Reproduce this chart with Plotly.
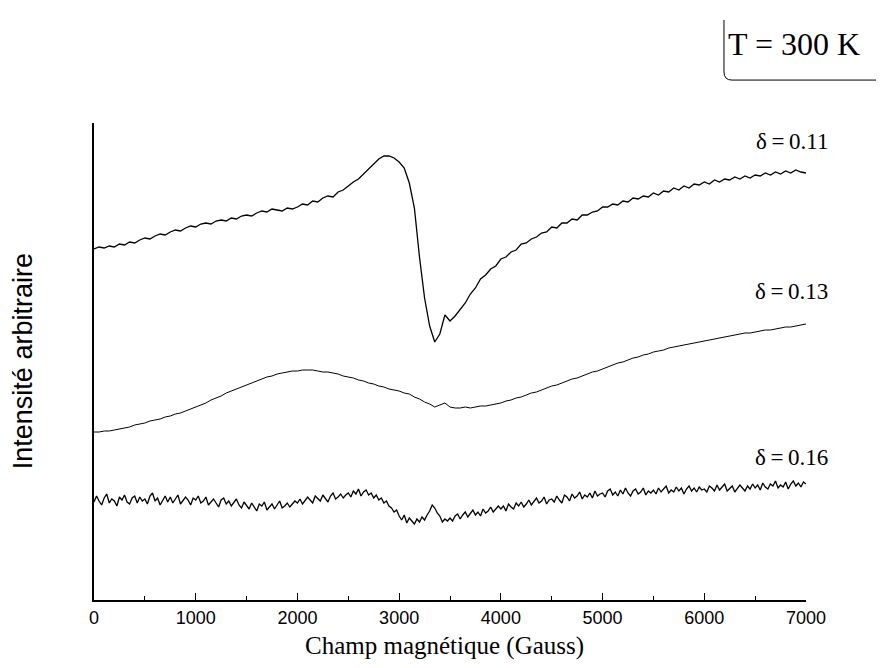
import plotly.graph_objects as go

# Magnetic field sampling positions (Gauss)
field_50 = list(range(0, 7001, 50))
field_25 = list(range(0, 7001, 25))

# delta = 0.11 (arbitrary intensity units)
delta_011 = [
    351, 353, 352, 354, 353, 356, 355, 358, 357, 360,
    362, 361, 364, 366, 365, 368, 370, 369, 372, 374,
    373, 376, 377, 376, 379, 380, 379, 382, 381, 384,
    385, 384, 387, 389, 388, 391, 390, 389, 392, 391,
    393, 396, 395, 399, 398, 402, 404, 403, 408, 410,
    414, 418, 421, 426, 431, 436, 441, 444, 444, 442,
    438, 432, 417, 392, 343, 302, 274, 258, 266, 285,
    279, 284,
    290, 297, 306, 312, 321, 325, 331, 334, 341, 343,
    348, 350, 356, 357, 361, 363, 367, 368, 373, 372,
    377, 377, 381, 380, 385, 385, 388, 389, 393, 393,
    396, 395, 399, 398, 402, 401, 404, 403, 407, 405,
    409, 408, 412, 410, 414, 412, 416, 415, 418, 416,
    420, 418, 421, 420, 423, 421, 424, 422, 425, 424,
    427, 425, 428, 426, 429, 427, 430, 428, 427,
]

# delta = 0.13
delta_013 = [
    168, 168, 169, 169, 170, 171, 172, 173, 175, 176,
    177, 179, 180, 181, 183, 184, 186, 187, 189, 191,
    193, 195, 197, 200, 202, 204, 207, 209, 211, 213,
    215, 217, 219, 221, 223, 224, 226, 227, 228, 229,
    229, 230, 230, 230, 229, 228, 228, 227, 226, 224,
    223, 222, 220, 219, 217, 216, 214, 213, 211, 210,
    209, 207, 206, 203, 201, 198, 196, 193, 195, 197,
    193, 192, 192, 193, 192, 193, 194, 194, 195, 196,
    197, 199, 200, 202, 203, 205, 207, 208, 210, 212,
    214, 215, 217, 219, 221, 222, 224, 226, 228, 229,
    231, 233, 235, 237, 238, 240, 242, 243, 245, 246,
    248, 249, 250, 252, 253, 254, 255, 256, 257, 258,
    259, 260, 261, 262, 263, 264, 265, 266, 267, 267,
    268, 269, 270, 270, 271, 272, 273, 273, 274, 275,
    276,
]

# delta = 0.16
delta_016 = [
    98, 104, 99, 95, 102, 106, 97, 101, 99, 94, 103, 100, 105, 98, 96, 102, 104, 97, 103, 99,
    101, 96, 104, 107, 99, 102, 95, 100, 104, 98, 103, 97, 101, 105, 96, 99, 103, 100, 95, 102,
    100, 104, 97, 99, 103, 95, 98, 101, 97, 93, 100, 102, 96, 99, 94, 97, 101, 95, 92, 98,
    95, 91, 97, 93, 89, 96, 94, 98, 90, 93, 96, 91, 95, 99, 92, 94, 97, 93, 96, 99,
    97, 101, 96, 99, 103, 100, 97, 104, 101, 99, 105, 102, 98, 104, 107, 101, 103, 106, 102, 105,
    107, 103, 109, 106, 111, 104, 108, 110, 105, 107, 102, 105, 100, 102, 97, 99, 94, 92, 88, 90,
    84, 80, 85, 77, 82, 79, 76, 81, 78, 83, 80, 85, 89, 95, 92, 87, 84, 78, 81, 79,
    82, 79, 84, 86, 81, 85, 88, 83, 86, 90, 85, 88, 84, 91, 87, 89, 93, 88, 91, 94,
    91, 94, 89, 96, 93, 91, 97, 94, 98, 93, 96, 100, 95, 98, 102, 97, 99, 103, 96, 100,
    101, 98, 104, 100, 97, 105, 103, 99, 106, 102, 104, 108, 101, 105, 103, 107, 102, 109, 104, 106,
    107, 103, 109, 111, 105, 108, 104, 110, 106, 112, 107, 104, 109, 111, 106, 108, 112, 105, 109, 107,
    110, 106, 112, 108, 111, 114, 107, 110, 108, 113, 109, 112, 106, 111, 114, 109, 112, 108, 113, 110,
    111, 108, 114, 112, 109, 115, 110, 113, 116, 109, 112, 114, 108, 111, 115, 112, 109, 114, 111, 116,
    112, 115, 110, 117, 113, 111, 116, 114, 119, 112, 115, 113, 118, 111, 116, 119, 114, 117, 113, 118,
    116,
]

series_labels = ["δ\u2009=\u20090.11", "δ\u2009=\u20090.13", "δ\u2009=\u20090.16"]
x_ticks = [0, 1000, 2000, 3000, 4000, 5000, 6000, 7000]

fig = go.Figure()
fig.add_trace(go.Scatter(x=field_50, y=delta_011, mode="lines",
                         line=dict(color="black", width=1.3), name=series_labels[0]))
fig.add_trace(go.Scatter(x=field_50, y=delta_013, mode="lines",
                         line=dict(color="black", width=1.0), name=series_labels[1]))
fig.add_trace(go.Scatter(x=field_25, y=delta_016, mode="lines",
                         line=dict(color="black", width=1.3), name=series_labels[2]))

serif = "Liberation Serif, Times New Roman, serif"
sans = "Liberation Sans, Arial, sans-serif"

annotations = [
    dict(text=series_labels[0], x=1.034, y=0.962, xanchor="right", yanchor="middle"),
    dict(text=series_labels[1], x=1.034, y=0.646, xanchor="right", yanchor="middle"),
    dict(text=series_labels[2], x=1.034, y=0.298, xanchor="right", yanchor="middle"),
]
for a in annotations:
    a.update(xref="paper", yref="paper", showarrow=False,
             font=dict(family=serif, size=23, color="black"))

annotations.append(dict(text="T = 300 K", xref="paper", yref="paper", x=0.983, y=1.165,
                        xanchor="center", yanchor="middle", showarrow=False,
                        font=dict(family=serif, size=32, color="black")))
annotations.append(dict(text="Intensité arbitraire", xref="paper", yref="paper",
                        x=-0.0995, y=0.501, xanchor="center", yanchor="middle",
                        textangle=-90, showarrow=False,
                        font=dict(family=sans, size=27, color="black")))
annotations.append(dict(text="Champ magnétique (Gauss)", xref="paper", yref="paper",
                        x=0.4916, y=-0.096, xanchor="center", yanchor="middle",
                        showarrow=False,
                        font=dict(family=serif, size=25, color="black")))

fig.update_layout(
    width=876, height=660,
    margin=dict(l=86, r=78, t=115, b=68),
    paper_bgcolor="white", plot_bgcolor="white",
    showlegend=False,
    annotations=annotations,
    shapes=[dict(type="path", xref="paper", yref="paper",
                 path="M 0.8848,1.216 L 0.8848,1.107 Q 0.8848,1.090 0.8960,1.090 L 1.12,1.090",
                 line=dict(color="black", width=1))],
    xaxis=dict(range=[0, 7000], tickvals=x_ticks, showline=True, linecolor="black",
               linewidth=1.5, ticks="inside", ticklen=7, tickwidth=1.2, tickcolor="black",
               showgrid=False, zeroline=False, ticklabelstandoff=1,
               minor=dict(dtick=500, ticks="inside", ticklen=4, tickcolor="black", tickwidth=1),
               tickfont=dict(family=sans, size=18, color="black")),
    yaxis=dict(range=[0, 477], showline=True, linecolor="black", linewidth=1.5,
               showticklabels=False, ticks="", showgrid=False, zeroline=False),
)

fig.write_html("out.html")
